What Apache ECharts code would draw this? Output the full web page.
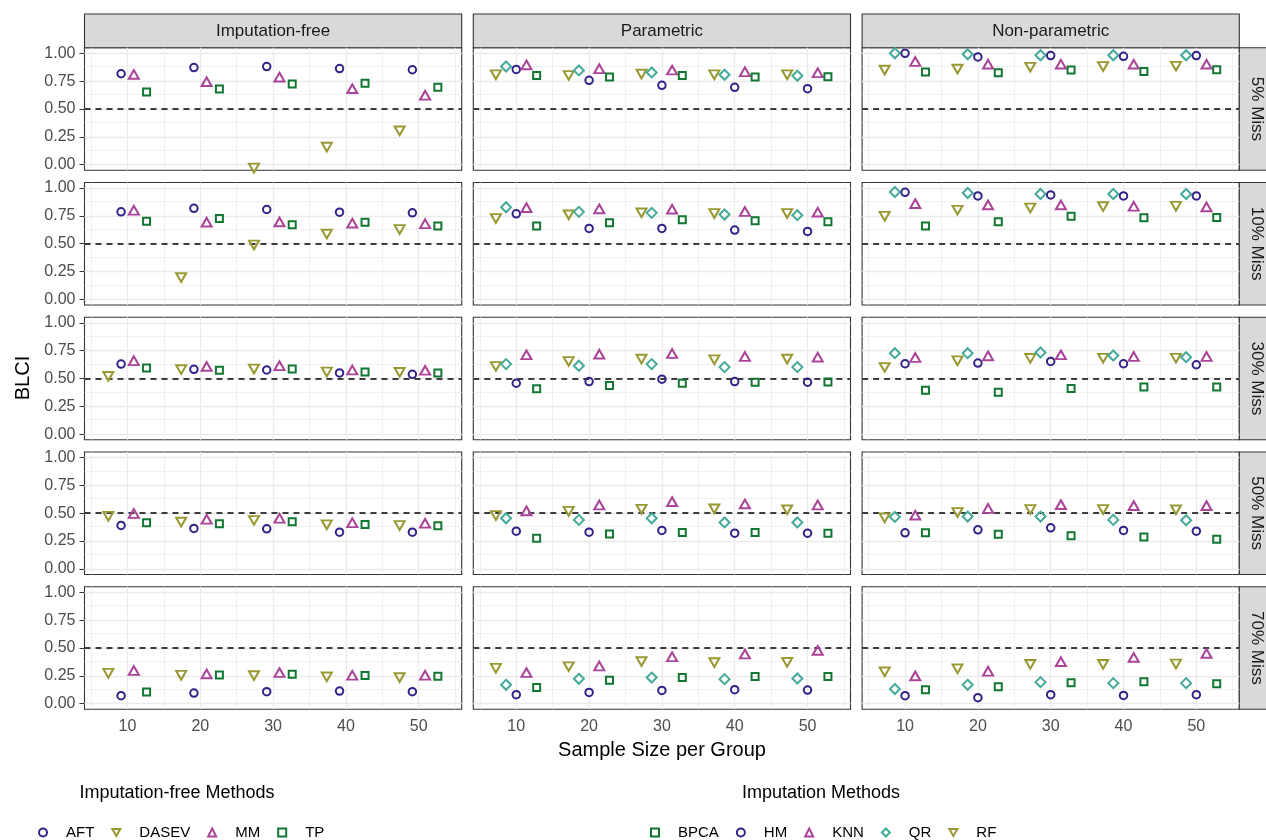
<!DOCTYPE html>
<html><head><meta charset="utf-8">
<script src="https://cdn.jsdelivr.net/npm/echarts@6/dist/echarts.min.js"></script>
<style>html,body{margin:0;padding:0;background:#fff}#c{width:1266px;height:840px}</style>
</head><body><div id="c"></div>
<script>
// ---------------- data ----------------
const sampleSizes = [10, 20, 30, 40, 50];
const xTicks = [10, 20, 30, 40, 50];
const yTicks = [0, 0.25, 0.5, 0.75, 1];
const missLevels = ['5% Miss', '10% Miss', '30% Miss', '50% Miss', '70% Miss'];
const panelTitles = ['Imputation-free', 'Parametric', 'Non-parametric'];
const freeMethods = ['AFT', 'DASEV', 'MM', 'TP'];
const imputeMethods = ['BPCA', 'HM', 'KNN', 'QR', 'RF'];
const refLine = 0.5;

// rows = missing level (5,10,30,50,70%), columns = sample size 10..50
const freeAFT = [
  [0.816, 0.872, 0.881, 0.863, 0.852],
  [0.786, 0.818, 0.807, 0.783, 0.777],
  [0.629, 0.582, 0.576, 0.550, 0.537],
  [0.390, 0.363, 0.360, 0.330, 0.330],
  [0.071, 0.095, 0.107, 0.113, 0.107]];
const freeDASEV = [
  [null, null, -0.030, 0.157, 0.303],
  [null, 0.196, 0.488, 0.586, 0.628],
  [0.519, 0.579, 0.585, 0.558, 0.555],
  [0.473, 0.420, 0.435, 0.396, 0.390],
  [0.273, 0.255, 0.252, 0.240, 0.234]];
const freeMM = [
  [0.810, 0.745, 0.786, 0.682, 0.623],
  [0.800, 0.693, 0.696, 0.685, 0.679],
  [0.659, 0.608, 0.614, 0.576, 0.573],
  [0.497, 0.446, 0.455, 0.414, 0.410],
  [0.297, 0.267, 0.279, 0.255, 0.255]];
const freeTP = [
  [0.653, 0.680, 0.724, 0.730, 0.694],
  [0.702, 0.726, 0.670, 0.693, 0.658],
  [0.593, 0.573, 0.585, 0.558, 0.550],
  [0.414, 0.405, 0.423, 0.399, 0.387],
  [0.104, 0.258, 0.264, 0.252, 0.246]];

const paramRF = [
  [0.807, 0.801, 0.813, 0.807, 0.807],
  [0.726, 0.759, 0.777, 0.771, 0.771],
  [0.608, 0.653, 0.674, 0.668, 0.674],
  [0.479, 0.518, 0.536, 0.539, 0.530],
  [0.318, 0.332, 0.377, 0.368, 0.371]];
const paramQR = [
  [0.881, 0.846, 0.828, 0.807, 0.798],
  [0.827, 0.786, 0.777, 0.762, 0.756],
  [0.629, 0.614, 0.629, 0.602, 0.602],
  [0.455, 0.440, 0.455, 0.417, 0.417],
  [0.169, 0.223, 0.234, 0.220, 0.226]];
const paramHM = [
  [0.855, 0.757, 0.712, 0.694, 0.682],
  [0.768, 0.637, 0.637, 0.622, 0.610],
  [0.457, 0.472, 0.493, 0.472, 0.466],
  [0.339, 0.330, 0.345, 0.321, 0.321],
  [0.080, 0.101, 0.119, 0.125, 0.122]];
const paramKNN = [
  [0.896, 0.861, 0.849, 0.834, 0.825],
  [0.824, 0.813, 0.810, 0.789, 0.783],
  [0.712, 0.718, 0.724, 0.697, 0.691],
  [0.521, 0.574, 0.604, 0.583, 0.574],
  [0.279, 0.338, 0.421, 0.445, 0.478]];
const paramBPCA = [
  [0.801, 0.786, 0.801, 0.786, 0.789],
  [0.658, 0.688, 0.714, 0.705, 0.696],
  [0.407, 0.436, 0.457, 0.466, 0.469],
  [0.274, 0.313, 0.327, 0.327, 0.321],
  [0.145, 0.211, 0.234, 0.243, 0.243]];

const nonparRF = [
  [0.849, 0.858, 0.875, 0.881, 0.884],
  [0.747, 0.801, 0.821, 0.833, 0.836],
  [0.599, 0.659, 0.680, 0.682, 0.682],
  [0.458, 0.506, 0.533, 0.533, 0.530],
  [0.285, 0.312, 0.353, 0.353, 0.356]];
const nonparQR = [
  [1.000, 0.991, 0.982, 0.982, 0.982],
  [0.964, 0.955, 0.946, 0.946, 0.946],
  [0.727, 0.727, 0.733, 0.706, 0.691],
  [0.467, 0.470, 0.470, 0.440, 0.437],
  [0.131, 0.169, 0.193, 0.184, 0.184]];
const nonparHM = [
  [1.000, 0.967, 0.979, 0.973, 0.979],
  [0.961, 0.929, 0.938, 0.929, 0.929],
  [0.632, 0.638, 0.653, 0.632, 0.623],
  [0.324, 0.351, 0.369, 0.345, 0.339],
  [0.071, 0.053, 0.080, 0.074, 0.080]];
const nonparKNN = [
  [0.926, 0.902, 0.902, 0.902, 0.902],
  [0.860, 0.848, 0.848, 0.836, 0.830],
  [0.688, 0.703, 0.712, 0.697, 0.697],
  [0.482, 0.542, 0.577, 0.568, 0.568],
  [0.249, 0.291, 0.377, 0.415, 0.451]];
const nonparBPCA = [
  [0.831, 0.825, 0.849, 0.837, 0.852],
  [0.658, 0.696, 0.747, 0.732, 0.735],
  [0.395, 0.377, 0.410, 0.424, 0.424],
  [0.324, 0.310, 0.298, 0.286, 0.265],
  [0.125, 0.151, 0.187, 0.196, 0.178]];

// ---------------- layout / style ----------------
const panels = [
  {order: ['DASEV', 'AFT', 'MM', 'TP'], values: {AFT: freeAFT, DASEV: freeDASEV, MM: freeMM, TP: freeTP}},
  {order: ['RF', 'QR', 'HM', 'KNN', 'BPCA'], values: {RF: paramRF, QR: paramQR, HM: paramHM, KNN: paramKNN, BPCA: paramBPCA}},
  {order: ['RF', 'QR', 'HM', 'KNN', 'BPCA'], values: {RF: nonparRF, QR: nonparQR, HM: nonparHM, KNN: nonparKNN, BPCA: nonparBPCA}}
];
const DOWN = 'path://M0,0L10,0L5,8.66Z';
const C_BLUE = '#332288', C_OLIVE = '#999933', C_PURPLE = '#AA4499', C_GREEN = '#117733', C_TEAL = '#44AA99';
const mstyle = {
  AFT: {color: C_BLUE, symbol: 'circle', size: 7.5},
  HM: {color: C_BLUE, symbol: 'circle', size: 7.5},
  DASEV: {color: C_OLIVE, symbol: DOWN, size: [10, 8.7]},
  RF: {color: C_OLIVE, symbol: DOWN, size: [10, 8.7]},
  MM: {color: C_PURPLE, symbol: 'triangle', size: [10, 8.7]},
  KNN: {color: C_PURPLE, symbol: 'triangle', size: [10, 8.7]},
  TP: {color: C_GREEN, symbol: 'rect', size: 7},
  BPCA: {color: C_GREEN, symbol: 'rect', size: 7},
  QR: {color: C_TEAL, symbol: 'diamond', size: [10, 10]}
};
const FONT = '"Liberation Sans", Arial, Helvetica, sans-serif';
const colLeft = [84.5, 473.3, 862.1], colW = 377.2;
const rowTop = [47.7, 182.45, 317.2, 451.95, 586.7], rowH = 122.5;
const X_MIN = 4.1, X_MAX = 55.9, Y_MIN = -0.05, Y_MAX = 1.05;
const DODGE = 7;

const grids = [], xAxes = [], yAxes = [], series = [];
const gridLines = [];
[0.125, 0.375, 0.625, 0.875].forEach(v => gridLines.push({yAxis: v, lineStyle: {width: 0.7}}));
[5, 15, 25, 35, 45, 55].forEach(v => gridLines.push({xAxis: v, lineStyle: {width: 0.7}}));
yTicks.forEach(v => gridLines.push({yAxis: v, lineStyle: {width: 1.3}}));
xTicks.forEach(v => gridLines.push({xAxis: v, lineStyle: {width: 1.3}}));
gridLines.push({yAxis: refLine, lineStyle: {color: '#000', width: 1.5, type: [6, 5]}});

for (let r = 0; r < 5; r++) {
  for (let c = 0; c < 3; c++) {
    const g = r * 3 + c;
    grids.push({left: colLeft[c], top: rowTop[r], width: colW, height: rowH,
      show: true, borderColor: '#333333', borderWidth: 1.1, backgroundColor: '#fff',
      containLabel: false, outerBoundsMode: 'none'});
    xAxes.push({type: 'value', gridIndex: g, min: X_MIN, max: X_MAX,
      axisLine: {show: false}, splitLine: {show: false},
      axisTick: {show: r === 4, customValues: xTicks, length: 5, lineStyle: {color: '#333', width: 1}},
      axisLabel: {show: r === 4, customValues: xTicks, margin: 9, fontSize: 16, color: '#4D4D4D', fontFamily: FONT}});
    yAxes.push({type: 'value', gridIndex: g, min: Y_MIN, max: Y_MAX,
      axisLine: {show: false}, splitLine: {show: false},
      axisTick: {show: c === 0, customValues: yTicks, length: 5, lineStyle: {color: '#333', width: 1}},
      axisLabel: {show: c === 0, customValues: yTicks, margin: 9, fontSize: 16, color: '#4D4D4D', fontFamily: FONT,
        formatter: v => v.toFixed(2)}});
    // background grid + reference line
    series.push({type: 'scatter', xAxisIndex: g, yAxisIndex: g, data: [], silent: true,
      markLine: {silent: true, z: 1, symbol: ['none', 'none'], label: {show: false}, animation: false,
        lineStyle: {color: '#EBEBEB', type: 'solid'}, emphasis: {disabled: true}, data: gridLines}});
    const p = panels[c];
    const k = p.order.length;
    p.order.forEach((m, idx) => {
      const vals = p.values[m][r];
      const off = (idx - (k - 1) / 2) * (DODGE / k);
      const data = [];
      sampleSizes.forEach((n, i) => { if (vals[i] !== null) data.push([n + off, vals[i]]); });
      const st = mstyle[m];
      series.push({type: 'scatter', name: m, xAxisIndex: g, yAxisIndex: g, z: 10,
        symbol: st.symbol, symbolSize: st.size, data: data,
        itemStyle: {color: 'rgba(0,0,0,0)', borderColor: st.color, borderWidth: 2, opacity: 1},
        emphasis: {disabled: true}, animation: false});
    });
  }
}

const graphics = [];
panelTitles.forEach((t, c) => {
  graphics.push({type: 'rect', shape: {x: colLeft[c], y: 14, width: colW, height: 33.7},
    style: {fill: '#D9D9D9', stroke: '#333333', lineWidth: 1.1}});
  graphics.push({type: 'text', x: colLeft[c] + colW / 2, y: 31,
    style: {text: t, align: 'center', verticalAlign: 'middle', fontSize: 17, fontFamily: FONT, fill: '#1A1A1A'}});
});
missLevels.forEach((t, r) => {
  graphics.push({type: 'rect', shape: {x: colLeft[2] + colW, y: rowTop[r], width: 34, height: rowH},
    style: {fill: '#D9D9D9', stroke: '#333333', lineWidth: 1.1}});
  graphics.push({type: 'text', x: colLeft[2] + colW + 17, y: rowTop[r] + rowH / 2, rotation: -Math.PI / 2,
    style: {text: t, align: 'center', verticalAlign: 'middle', fontSize: 17, fontFamily: FONT, fill: '#1A1A1A'}});
});
graphics.push({type: 'text', x: 23, y: 378, rotation: Math.PI / 2,
  style: {text: 'BLCI', align: 'center', verticalAlign: 'middle', fontSize: 20, fontFamily: FONT, fill: '#000'}});
graphics.push({type: 'text', x: 662, y: 750,
  style: {text: 'Sample Size per Group', align: 'center', verticalAlign: 'middle', fontSize: 20, fontFamily: FONT, fill: '#000'}});
graphics.push({type: 'text', x: 177, y: 793,
  style: {text: 'Imputation-free Methods', align: 'center', verticalAlign: 'middle', fontSize: 18, fontFamily: FONT, fill: '#000'}});
graphics.push({type: 'text', x: 821, y: 793,
  style: {text: 'Imputation Methods', align: 'center', verticalAlign: 'middle', fontSize: 18, fontFamily: FONT, fill: '#000'}});

function legendItems(names) {
  return names.map(n => ({name: n, icon: mstyle[n].symbol,
    itemStyle: {color: 'rgba(0,0,0,0)', borderColor: mstyle[n].color, borderWidth: 2}}));
}
const legendCommon = {orient: 'horizontal', itemWidth: 8, itemHeight: 8, itemGap: 17, selectedMode: false,
  textStyle: {fontSize: 15, color: '#000', fontFamily: FONT, padding: [0, 0, 0, 14]}};

const chart = echarts.init(document.getElementById('c'), null, {renderer: 'canvas'});
chart.setOption({
  animation: false,
  backgroundColor: '#fff',
  textStyle: {fontFamily: FONT},
  grid: grids, xAxis: xAxes, yAxis: yAxes, series: series,
  legend: [
    Object.assign({}, legendCommon, {left: 33, top: 820, data: legendItems(freeMethods)}),
    Object.assign({}, legendCommon, {left: 645, top: 820, data: legendItems(imputeMethods)})
  ],
  graphic: graphics
});
</script></body></html>
